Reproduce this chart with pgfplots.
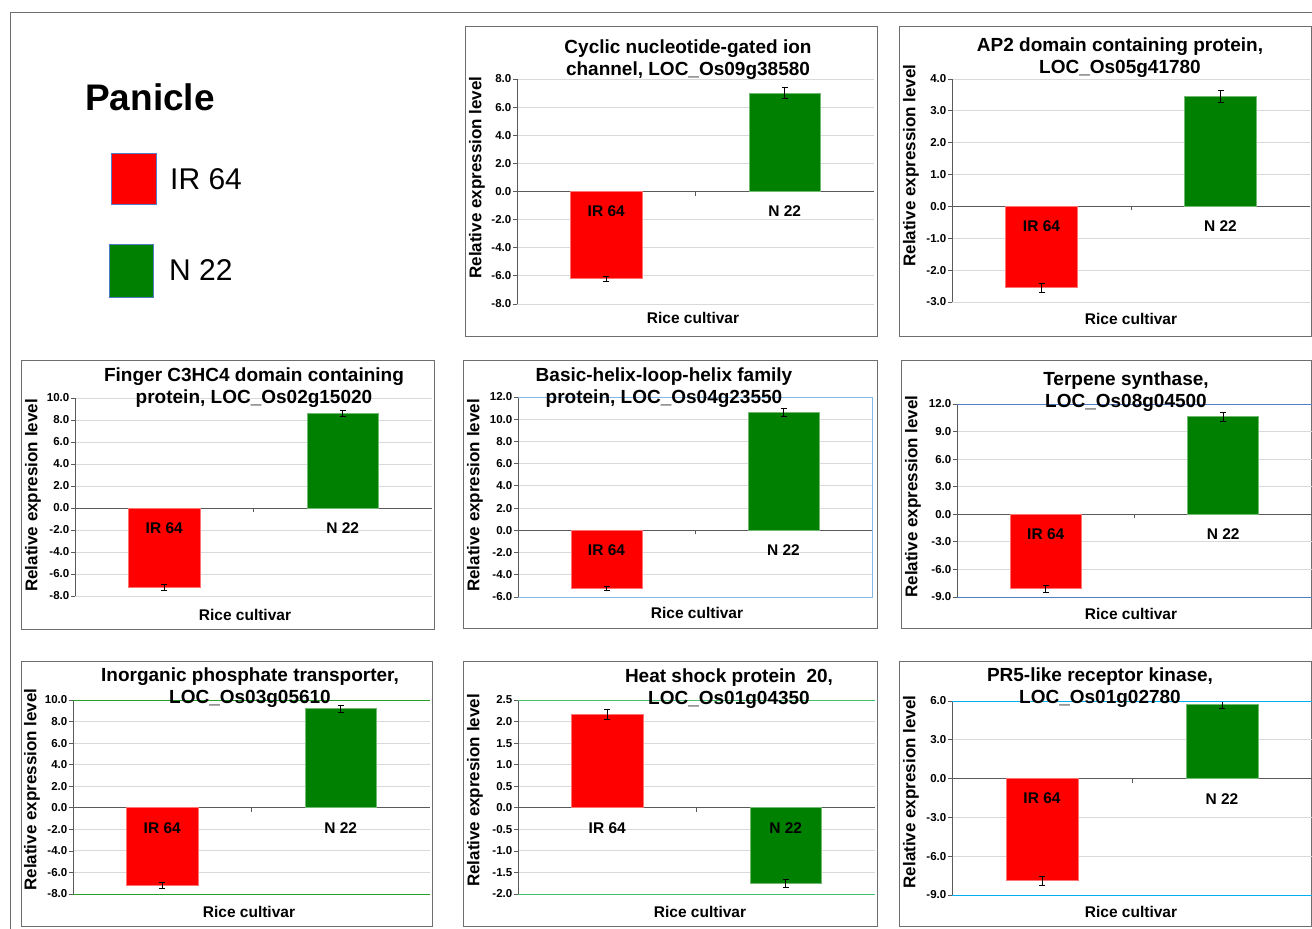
\documentclass[border=0pt]{standalone}
\usepackage{fontspec}
\setmainfont{Liberation Sans}
\usepackage{pgfplots}
\pgfplotsset{compat=1.18}
\definecolor{bred}{RGB}{255,0,0}
\definecolor{bgreen}{RGB}{0,128,0}
\definecolor{boxgray}{RGB}{110,110,110}
\definecolor{gridgray}{RGB}{217,217,217}
\definecolor{axgray}{RGB}{90,90,90}
\definecolor{lblue}{RGB}{130,185,230}
\definecolor{mblue}{RGB}{80,125,200}
\definecolor{fgreen}{RGB}{40,160,40}
\definecolor{lgreen}{RGB}{70,190,110}
\definecolor{cyanl}{RGB}{0,176,240}
\pgfplotsset{
  panel/.style={
    scale only axis, anchor=south west,
    xmin=0.5, xmax=2.5,
    axis x line=middle, axis y line=left,
    axis line style={-, draw=axgray, line width=0.9pt},
    xtick=\empty,
    extra x ticks={1.5}, extra x tick labels={},
    extra x tick style={xtick style={draw=axgray, line width=0.8pt}},
    ymajorgrids, grid style={draw=gridgray, line width=0.9pt},
    tick align=outside, major tick length=4pt,
    ytick style={draw=axgray, line width=0.8pt},
    yticklabel style={font=\fontsize{11.5}{13}\selectfont\bfseries,
      /pgf/number format/fixed, /pgf/number format/fixed zerofill,
      /pgf/number format/precision=1, inner sep=1.5pt},
    /pgf/number format/assume math mode=true,
    ybar, bar width=0.4, bar shift=0pt,
    clip=false,
  },
  redbar/.style={fill=bred, draw=bred!55!white, line width=0.8pt,
    error bars/.cd, y dir=both, y explicit,
    error bar style={black, line width=0.7pt},
    error mark options={rotate=90, black, mark size=3pt, line width=0.7pt}},
  greenbar/.style={fill=bgreen, draw=bgreen!55!white, line width=0.8pt,
    error bars/.cd, y dir=both, y explicit,
    error bar style={black, line width=0.7pt},
    error mark options={rotate=90, black, mark size=3pt, line width=0.7pt}},
}
\tikzset{
  ttl/.style={align=center, font=\fontsize{19}{22}\selectfont\bfseries},
  ylab/.style={rotate=90, font=\fontsize{17}{19}\selectfont\bfseries},
  xlab/.style={font=\fontsize{15.5}{17}\selectfont\bfseries},
  cat/.style={anchor=center, inner sep=0pt, yshift=-20pt, font=\fontsize{15.5}{17}\selectfont\bfseries},
}
\newcommand\cats{\node[cat] at (axis cs:1,0) {IR 64};\node[cat] at (axis cs:2,0) {N 22};}
\begin{document}
\begin{tikzpicture}
\useasboundingbox[fill=white] (0pt,0pt) rectangle (1312pt,-929pt);
% outer frame
\draw[boxgray, line width=1pt] (10pt,-929pt) -- (10pt,-12pt) -- (1312pt,-12pt);
% panel boxes
\draw[boxgray, line width=1pt] (465pt,-26pt) rectangle (877pt,-336pt);
\draw[boxgray, line width=1pt] (899pt,-26pt) rectangle (1311pt,-336pt);
\draw[boxgray, line width=1pt] (21pt,-360pt) rectangle (434pt,-629pt);
\draw[boxgray, line width=1pt] (463pt,-360pt) rectangle (877pt,-628pt);
\draw[boxgray, line width=1pt] (901pt,-360pt) rectangle (1311pt,-628pt);
\draw[boxgray, line width=1pt] (21pt,-661pt) rectangle (432pt,-926pt);
\draw[boxgray, line width=1pt] (463pt,-661pt) rectangle (877pt,-926pt);
\draw[boxgray, line width=1pt] (899pt,-661pt) rectangle (1311pt,-926pt);

% legend
\node[anchor=base west, inner sep=0pt, font=\fontsize{37}{40}\selectfont\bfseries] at (85pt,-110pt) {Panicle};
\draw[fill=bred, draw=mblue, line width=0.6pt] (111pt,-153pt) rectangle (156pt,-204pt);
\draw[fill=bgreen, draw=mblue, line width=0.6pt] (109pt,-244pt) rectangle (153pt,-297pt);
\node[anchor=west, inner sep=0pt, font=\fontsize{30}{32}\selectfont] at (170pt,-179pt) {IR 64};
\node[anchor=west, inner sep=0pt, font=\fontsize{30}{32}\selectfont] at (169pt,-270pt) {N 22};

% Panel 1
\begin{axis}[panel, at={(517pt,-304pt)}, width=357pt, height=225pt,
  ymin=-8, ymax=8, ytick={-8,-6,-4,-2,0,2,4,6,8}]
\addplot[redbar] coordinates {(1,-6.2) +- (0,0.2)};
\addplot[greenbar] coordinates {(2,7.0) +- (0,0.4)};
\cats
\end{axis}
% Panel 2
\begin{axis}[panel, at={(952pt,-302pt)}, width=358pt, height=223pt,
  ymin=-3, ymax=4, ytick={-3,-2,-1,0,1,2,3,4}]
\addplot[redbar] coordinates {(1,-2.55) +- (0,0.15)};
\addplot[greenbar] coordinates {(2,3.46) +- (0,0.18)};
\cats
\end{axis}
% Panel 3
\begin{axis}[panel, at={(75pt,-596pt)}, width=357pt, height=198pt,
  ymin=-8, ymax=10, ytick={-8,-6,-4,-2,0,2,4,6,8,10}]
\addplot[redbar] coordinates {(1,-7.2) +- (0,0.3)};
\addplot[greenbar] coordinates {(2,8.6) +- (0,0.3)};
\cats
\end{axis}
% Panel 4
\begin{axis}[panel, at={(518pt,-597pt)}, width=354pt, height=200pt,
  ymin=-6, ymax=12, ytick={-6,-4,-2,0,2,4,6,8,10,12}]
\addplot[redbar] coordinates {(1,-5.2) +- (0,0.2)};
\addplot[greenbar] coordinates {(2,10.6) +- (0,0.38)};
\draw[lblue, line width=1pt] (rel axis cs:0,1) -- (rel axis cs:1,1) -- (rel axis cs:1,0) -- (rel axis cs:0,0);
\cats
\end{axis}
% Panel 5
\begin{axis}[panel, at={(957pt,-597pt)}, width=355pt, height=193pt,
  ymin=-9, ymax=12, ytick={-9,-6,-3,0,3,6,9,12}]
\addplot[redbar] coordinates {(1,-8.1) +- (0,0.35)};
\addplot[greenbar] coordinates {(2,10.6) +- (0,0.45)};
\draw[mblue, line width=1pt] (rel axis cs:0,1) -- (rel axis cs:1,1);
\draw[mblue, line width=1pt] (rel axis cs:0,0) -- (rel axis cs:1,0);
\cats
\end{axis}
% Panel 6
\begin{axis}[panel, at={(73pt,-894pt)}, width=357pt, height=194pt,
  ymin=-8, ymax=10, ytick={-8,-6,-4,-2,0,2,4,6,8,10}]
\addplot[redbar] coordinates {(1,-7.2) +- (0,0.3)};
\addplot[greenbar] coordinates {(2,9.2) +- (0,0.35)};
\draw[fgreen, line width=1pt] (rel axis cs:0,1) -- (rel axis cs:1,1);
\draw[fgreen, line width=1pt] (rel axis cs:0,0) -- (rel axis cs:1,0);
\cats
\end{axis}
% Panel 7
\begin{axis}[panel, at={(518pt,-894pt)}, width=357pt, height=194pt,
  ymin=-2, ymax=2.5, ytick={-2,-1.5,-1,-0.5,0,0.5,1,1.5,2,2.5}]
\addplot[redbar] coordinates {(1,2.17) +- (0,0.12)};
\addplot[greenbar] coordinates {(2,-1.75) +- (0,0.1)};
\draw[lgreen, line width=1pt] (rel axis cs:0,1) -- (rel axis cs:1,1);
\draw[lgreen, line width=1pt] (rel axis cs:0,0) -- (rel axis cs:1,0);
\cats
\end{axis}
% Panel 8
\begin{axis}[panel, at={(952pt,-895pt)}, width=360pt, height=194pt,
  ymin=-9, ymax=6, ytick={-9,-6,-3,0,3,6}]
\addplot[redbar] coordinates {(1,-7.9) +- (0,0.35)};
\addplot[greenbar] coordinates {(2,5.7) +- (0,0.28)};
\draw[cyanl, line width=1pt] (rel axis cs:0,1) -- (rel axis cs:1,1);
\draw[cyanl, line width=1pt] (rel axis cs:0,0) -- (rel axis cs:1,0);
\cats
\end{axis}

% titles
\node[ttl] at (688pt,-59.5pt) {Cyclic nucleotide-gated ion\\channel, LOC\_Os09g38580};
\node[ttl] at (1120pt,-58pt) {AP2 domain containing protein,\\LOC\_Os05g41780};
\node[ttl] at (254pt,-388pt) {Finger C3HC4 domain containing\\protein, LOC\_Os02g15020};
\node[ttl] at (664pt,-387.5pt) {Basic-helix-loop-helix family\\protein, LOC\_Os04g23550};
\node[ttl] at (1126pt,-391.5pt) {Terpene synthase,\\LOC\_Os08g04500};
\node[ttl] at (250pt,-688pt) {Inorganic phosphate transporter,\\LOC\_Os03g05610};
\node[ttl] at (729pt,-688.5pt) {Heat shock protein\ \ 20,\\LOC\_Os01g04350};
\node[ttl] at (1100pt,-687.5pt) {PR5-like receptor kinase,\\LOC\_Os01g02780};

% y labels
\node[ylab] at (477pt,-177.5pt) {Relative expression level};
\node[ylab] at (911pt,-165.5pt) {Relative expression level};
\node[ylab] at (33pt,-495.5pt) {Relative expresion level};
\node[ylab] at (475pt,-495.5pt) {Relative expresion level};
\node[ylab] at (913pt,-496.5pt) {Relative expression level};
\node[ylab] at (32pt,-789.5pt) {Relative expression level};
\node[ylab] at (475pt,-790.5pt) {Relative expresion level};
\node[ylab] at (911pt,-792pt) {Relative expresion level};

% x labels
\node[xlab] at (693pt,-318pt) {Rice cultivar};
\node[xlab] at (1131pt,-319pt) {Rice cultivar};
\node[xlab] at (245pt,-615pt) {Rice cultivar};
\node[xlab] at (697pt,-613pt) {Rice cultivar};
\node[xlab] at (1131pt,-614pt) {Rice cultivar};
\node[xlab] at (249pt,-912pt) {Rice cultivar};
\node[xlab] at (700pt,-912pt) {Rice cultivar};
\node[xlab] at (1131pt,-912pt) {Rice cultivar};
\end{tikzpicture}
\end{document}
